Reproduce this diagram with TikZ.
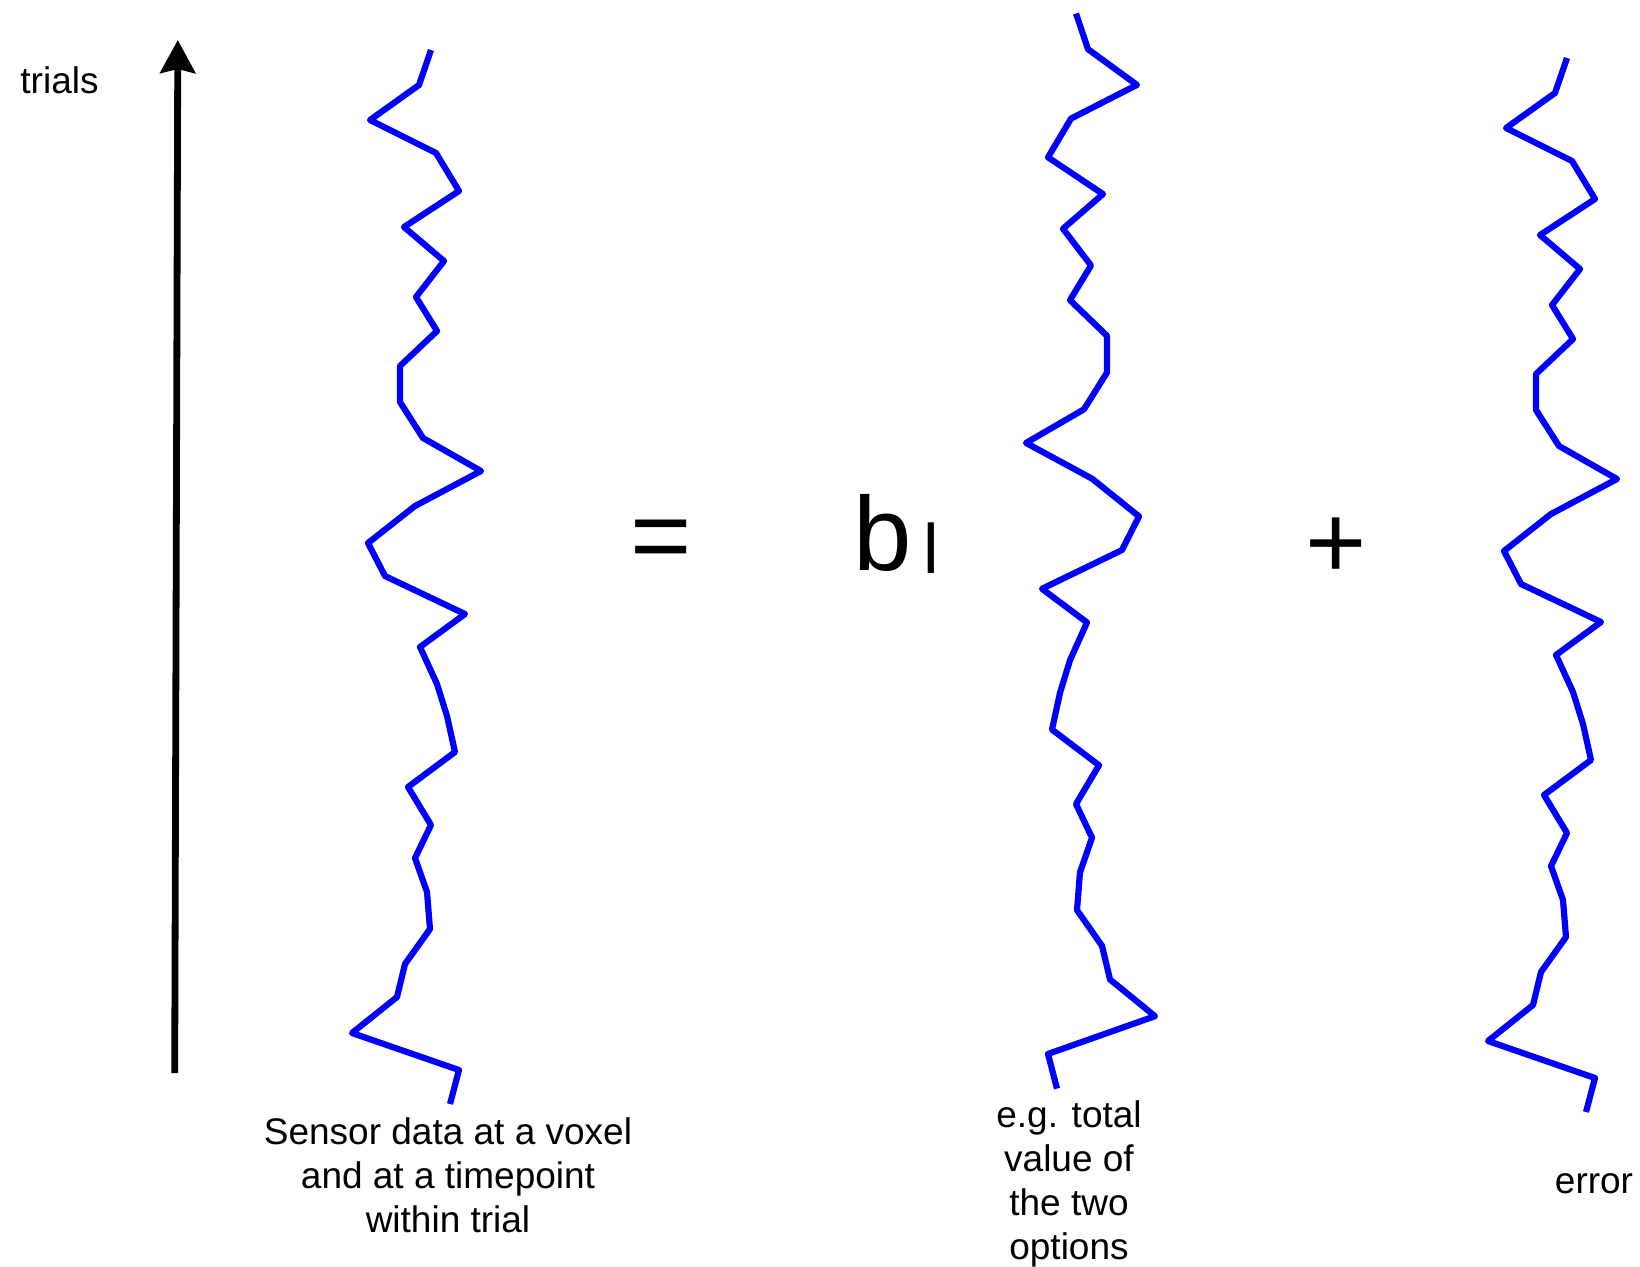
\documentclass[tikz,border=0pt]{standalone}
\usepackage{fontspec}
\setmainfont{Liberation Sans}
\usepackage{tikz}
\usetikzlibrary{arrows.meta,positioning}
\tikzset{
  traza/.style={draw=blue,line width=3.1pt,line join=round},
  etiq/.style={font=\fontsize{18.5}{22}\selectfont,inner sep=0pt,align=center},
  simbolo/.style={font=\fontsize{52.5}{60}\selectfont,inner sep=0pt},
  eje/.style={-{Stealth[length=16.5pt,width=17.5pt,inset=2pt]},line width=3.4pt}
}
\newcommand{\serie}{(431,50) -- (419,85) -- (370,120) -- (436,153) -- (459,191) -- (404,227) -- (444,261) -- (416,297) -- (437,331) -- (400,366) -- (400,402) -- (423,438) -- (481,471) -- (415,506) -- (368,543) -- (385,576) -- (465,614) -- (420,647) -- (437,684) -- (447,716) -- (455,752) -- (408,787) -- (431,825) -- (415,858) -- (427,892) -- (430,929) -- (405,964) -- (397,997) -- (352,1033) -- (459,1070) -- (450,1104)}

\begin{document}
\begin{tikzpicture}[x=0.5pt,y=-0.5pt]
\useasboundingbox (0,0) rectangle (1640,1266);
\coordinate (abajo) at (174.7,1073);
\coordinate (arriba) at (177.8,40);
\draw[eje] (abajo)--(arriba);
\node[etiq,anchor=base] (trials) at (59.5,93) {trials};
\draw[traza] \serie;
\begin{scope}[shift={(1507,-37.5)},xscale=-1,yscale=1.02]
\draw[traza] \serie;
\end{scope}
\begin{scope}[shift={(1136,8)}]
\draw[traza] \serie;
\end{scope}
\node[simbolo] (igual) at (661,546) {=};
\node[simbolo,anchor=base west] (coef) at (853,570) {b\kern6pt\raisebox{-1.5pt}{\fontsize{35}{35}\selectfont l}};
\node[simbolo] (mas) at (1336,548) {+};
\node[etiq,anchor=north] (datos) at (448,1117) {Sensor data at a voxel\\and at a timepoint\\within trial};
\node[etiq,anchor=north] (valor) at (1069,1100) {e.g. total\\value of\\the two\\options};
\node[etiq,anchor=base] (error) at (1594,1193) {error};
\end{tikzpicture}
\end{document}
